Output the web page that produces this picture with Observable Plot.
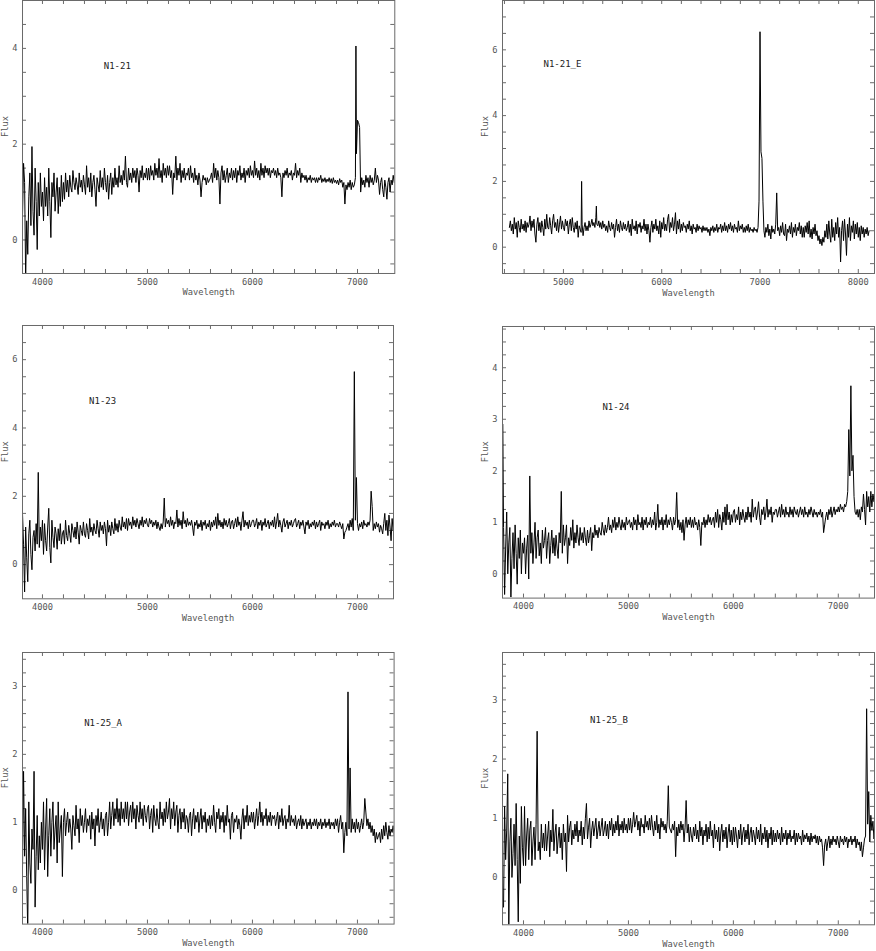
<!DOCTYPE html>
<html><head><meta charset="utf-8">
<script src="https://cdn.jsdelivr.net/npm/d3@7"></script>
<script src="https://cdn.jsdelivr.net/npm/@observablehq/plot@0.6"></script>
<style>
body{margin:0;background:#fff;}
#root{position:relative;width:876px;height:951px;overflow:hidden;background:#fff;}
#root svg{position:absolute;}
</style></head><body><div id="root"></div>
<script>
// Sampling step of the tabulated spectra (Angstrom)
const STEP = 10;

// ---- N1-21 (starts 3810 A) ----
const n121Start = 3810;
const n121Flux = [
 0.5,1.6,1.2,-0.8,0.4,-0.3,0.9,1.4,0.3,1.95,0.6,0.1,1.5,0.8,-0.2,1.2,0.5,1.4,0.7,1.0,
 0.4,1.3,0.7,1.1,0.5,1.5,0.8,0.05,1.2,0.9,1.4,0.6,1.0,1.3,0.55,1.1,0.7,1.35,0.8,1.2,
 0.85,1.4,1.0,1.25,0.9,1.35,1.1,1.0,1.45,1.2,1.05,1.3,1.15,0.95,1.4,1.1,1.25,1.0,1.35,1.15,
 0.95,1.55,1.1,1.3,1.0,1.4,0.9,1.2,1.35,1.05,0.7,1.3,1.15,1.0,1.45,1.1,1.3,1.05,1.5,1.2,
 1.0,1.35,0.85,1.2,1.4,0.95,1.3,1.1,1.5,1.15,1.3,1.1,1.55,1.2,1.35,1.15,1.45,1.25,1.75,1.2,
 1.1,1.5,1.25,1.4,1.2,1.5,1.3,1.45,1.2,1.5,1.35,1.0,1.45,1.3,1.55,1.25,1.4,1.3,1.5,1.25,
 1.5,1.25,1.55,1.35,1.45,1.25,1.6,1.35,1.5,1.3,1.7,1.3,1.45,1.2,1.6,1.35,1.5,1.3,1.55,1.35,
 1.55,1.3,1.45,0.95,1.4,1.3,1.75,1.25,1.5,1.35,1.6,1.2,1.45,1.3,1.5,1.25,1.4,1.35,1.5,1.25,
 1.55,1.3,1.4,1.2,1.5,1.25,1.35,1.15,1.4,1.25,0.9,1.2,1.35,1.25,1.3,1.15,1.3,1.2,1.25,1.3,
 1.4,1.2,1.6,1.3,1.5,1.25,1.45,1.3,0.75,1.4,1.55,1.25,1.45,1.2,1.35,1.5,1.2,1.4,1.3,1.5,
 1.25,1.45,1.3,1.5,1.2,1.45,1.35,1.55,1.25,1.4,1.3,1.5,1.2,1.45,1.35,1.5,1.3,1.55,1.35,1.45,
 1.3,1.65,1.35,1.5,1.3,1.45,1.25,1.6,1.35,1.5,1.3,1.55,1.4,1.5,1.35,1.5,1.3,1.45,1.4,1.5,
 1.35,1.45,1.3,1.5,1.35,1.4,1.3,0.9,1.4,1.3,1.45,1.35,1.5,1.3,1.4,1.35,1.45,1.25,1.4,1.35,
 1.6,1.3,1.45,1.35,1.5,1.2,1.4,1.3,1.35,1.25,1.35,1.2,1.3,1.25,1.35,1.2,1.3,1.25,1.3,1.2,
 1.3,1.2,1.3,1.25,1.35,1.2,1.28,1.22,1.3,1.2,1.27,1.22,1.3,1.2,1.28,1.18,1.3,1.2,1.25,1.18,
 1.25,1.15,1.28,1.2,1.25,1.1,1.2,0.75,1.15,1.05,1.2,1.1,1.25,1.05,1.2,1.1,1.15,1.3,1.8,2.5,
 2.45,2.35,1.0,1.3,1.15,1.25,1.1,1.35,1.2,1.3,1.1,1.35,1.2,1.3,1.15,1.25,1.5,1.2,1.35,1.25,
 0.95,1.2,1.3,1.05,0.9,1.25,1.1,0.85,1.2,1.3,1.0,1.25,1.15,1.35,1.2
];
const n121Lines = [[6985,4.05]];

// ---- N1-21_E (starts 4450 A) ----
const n121eStart = 4450;
const n121eFlux = [
 0.6,0.8,0.5,0.7,0.4,0.9,0.55,0.75,0.3,0.8,0.6,0.45,0.85,0.55,0.7,0.5,0.8,0.45,0.75,0.6,
 0.7,0.95,0.5,0.8,0.6,0.85,0.4,0.15,0.7,0.9,0.5,0.75,0.45,0.8,0.6,0.35,0.85,0.55,1.0,0.6,
 0.55,0.9,0.65,0.4,0.8,1.0,0.6,0.75,0.5,0.85,0.45,0.7,0.95,0.55,0.8,0.6,0.5,0.85,0.65,0.8,
 0.4,0.7,0.85,0.5,0.9,0.6,0.45,0.75,0.55,0.8,0.3,0.65,0.55,0.45,0.7,0.35,0.6,0.75,0.5,0.65,
 0.5,0.8,0.6,0.7,0.85,0.65,0.75,0.6,0.9,0.7,0.65,0.8,0.6,0.75,0.55,0.8,0.6,0.7,0.5,0.65,
 0.45,0.8,0.6,0.5,0.75,0.55,0.7,0.3,0.6,0.85,0.5,0.7,0.45,0.8,0.6,0.5,0.75,0.55,0.7,0.5,
 0.6,0.8,0.45,0.7,0.35,0.85,0.55,0.65,0.5,0.8,0.4,0.7,0.6,0.75,0.45,0.65,0.55,0.85,0.5,0.7,
 0.4,0.7,0.5,0.15,0.6,0.8,0.45,0.7,0.55,0.85,0.5,0.65,0.4,0.8,0.3,0.75,0.55,0.9,0.5,0.7,
 0.5,0.85,1.0,0.45,0.75,0.6,0.9,0.5,0.7,1.05,0.4,0.8,0.55,0.85,0.45,0.7,0.5,0.75,0.6,0.65,
 0.45,0.7,0.55,0.8,0.5,0.65,0.4,0.7,0.55,0.6,0.45,0.7,0.5,0.65,0.55,0.6,0.45,0.65,0.5,0.6,
 0.5,0.6,0.45,0.55,0.35,0.6,0.5,0.65,0.45,0.6,0.5,0.7,0.45,0.6,0.55,0.7,0.45,0.65,0.5,0.75,
 0.5,0.65,0.45,0.7,0.55,0.75,0.5,0.65,0.45,0.7,0.55,0.6,0.45,0.8,0.5,0.65,0.55,0.7,0.45,0.6,
 0.45,0.65,0.5,0.7,0.45,0.6,0.5,0.55,0.45,0.6,0.5,0.55,0.45,0.6,1.4,6.55,2.9,2.7,1.4,0.5,
 0.3,0.6,0.45,0.7,0.35,0.55,0.25,0.65,0.45,0.55,0.4,0.7,1.65,0.5,0.6,0.35,0.65,0.45,0.75,0.4,
 0.35,0.7,0.2,0.55,0.45,0.65,0.4,0.75,0.3,0.6,0.45,0.7,0.35,0.6,0.5,0.75,0.4,0.65,0.3,0.6,
 0.3,0.65,0.45,0.75,0.4,0.8,0.3,0.55,0.25,0.6,0.4,0.7,0.35,0.5,0.2,0.35,0.1,0.25,0.05,0.3,
 0.15,0.5,0.3,0.7,0.25,0.8,0.4,0.15,0.85,0.3,0.6,0.2,0.75,0.4,0.9,0.3,0.6,-0.45,0.5,0.8,
 0.2,0.85,0.4,-0.25,0.7,0.3,0.9,0.2,0.65,0.45,0.8,0.25,0.7,0.4,0.75,0.3,0.6,0.2,0.65,0.4,
 0.6,0.3,0.55,0.4,0.6,0.35,0.5
];
const n121eLines = [[5185,2.0],[5335,1.25]];

// ---- N1-23 (starts 3810 A) ----
const n123Start = 3810;
const n123Flux = [
 1.5,0.6,-0.8,1.1,0.2,-0.5,0.9,1.3,0.3,-0.15,0.8,1.0,0.4,1.2,0.6,2.7,0.5,1.1,0.7,1.3,
 0.3,1.2,0.7,0.4,1.1,1.65,0.5,0.05,1.3,0.8,0.5,1.1,0.9,0.45,1.05,0.7,1.2,0.6,0.9,1.0,
 0.6,1.3,0.85,0.7,1.15,0.9,0.65,1.2,1.0,0.8,1.1,0.75,1.25,0.95,0.6,1.15,1.0,0.85,1.25,0.9,
 0.8,1.2,1.0,0.75,1.35,0.95,1.1,0.85,1.2,1.0,0.9,1.3,1.05,0.8,1.25,1.0,1.15,0.9,1.25,1.05,
 0.55,1.3,0.95,1.15,0.85,1.25,1.05,0.9,1.35,1.0,1.2,0.95,1.3,1.1,1.0,1.4,1.1,1.25,1.05,1.35,
 1.0,1.35,1.15,1.25,1.05,1.4,1.15,1.3,1.1,1.35,1.2,1.05,1.3,1.15,1.4,1.1,1.3,1.2,1.35,1.15,
 1.1,1.35,1.2,1.3,1.1,1.25,1.15,1.3,1.05,1.25,1.1,1.0,1.2,1.05,1.25,1.95,1.1,1.35,1.2,1.3,
 1.1,1.4,1.15,1.3,1.05,1.25,1.2,1.6,1.1,1.35,1.15,1.3,1.05,1.55,1.2,1.3,1.1,1.35,1.15,1.25,
 1.15,1.3,1.1,0.85,1.25,1.15,1.3,1.05,1.2,1.1,1.3,1.0,1.25,1.15,1.3,1.05,1.2,1.1,1.3,1.0,
 1.25,1.1,1.3,1.15,1.4,1.05,1.5,1.15,1.3,1.1,1.25,1.05,1.35,1.15,1.3,1.1,1.2,1.35,1.05,1.25,
 1.3,1.05,1.2,1.35,1.1,1.4,1.15,1.25,1.0,1.3,1.55,1.1,1.3,1.15,1.25,1.05,1.3,1.1,1.2,1.3,
 1.3,1.1,1.2,1.35,1.05,1.25,1.15,1.3,1.0,1.25,1.15,1.35,1.1,1.2,1.3,1.05,1.25,1.15,1.3,1.1,
 1.4,1.05,1.25,1.5,1.1,1.3,1.15,0.95,1.25,1.35,1.1,1.2,1.3,1.05,1.25,1.15,1.3,1.1,1.2,1.3,
 1.35,1.1,1.2,1.3,1.05,1.25,1.15,1.3,1.1,0.9,1.25,1.15,1.3,1.05,1.2,1.1,1.25,1.15,1.3,1.05,
 1.25,1.1,1.2,1.3,1.0,1.25,1.15,1.2,1.05,1.25,1.15,1.3,1.05,1.2,1.1,1.25,1.15,1.3,1.1,1.2,
 1.2,1.1,1.25,1.15,1.05,1.2,0.75,0.95,1.0,1.1,1.2,1.0,1.3,1.1,1.35,1.0,5.65,1.3,2.55,1.2,
 1.0,1.2,1.1,1.25,1.05,1.3,1.15,1.2,1.1,1.25,1.15,1.3,2.15,1.7,1.0,1.2,1.05,1.25,1.1,1.2,
 0.95,1.15,1.05,0.9,1.2,1.5,1.0,1.3,0.85,1.45,1.1,0.7,1.35,1.0,1.25
];
const n123Lines = [];

// ---- N1-24 (starts 3810 A) ----
const n124Start = 3810;
const n124Flux = [
 0.9,-0.4,0.5,1.2,0.0,0.6,0.9,-0.45,0.3,0.8,0.1,0.95,0.4,-0.2,0.7,0.3,0.85,0.0,0.6,0.4,
 0.7,0.0,0.5,0.75,-0.1,1.9,0.4,0.8,0.2,0.6,1.0,0.3,0.7,0.85,0.35,0.6,0.2,0.85,0.5,0.65,
 0.9,0.3,0.65,0.8,0.2,0.55,0.85,0.4,0.7,0.35,0.75,0.5,0.3,0.8,0.6,1.6,0.4,0.95,0.55,0.7,
 0.95,0.2,0.7,0.55,0.9,0.65,1.05,0.5,0.8,0.6,0.95,0.7,0.55,0.9,0.65,0.8,0.6,0.9,0.7,0.55,
 0.85,0.6,0.75,0.9,0.45,0.8,0.7,0.95,0.75,0.85,0.7,0.9,0.8,0.75,1.0,0.85,0.75,0.95,0.8,0.9,
 1.1,0.85,0.95,0.8,1.05,0.9,1.1,0.85,1.0,0.9,1.1,0.95,0.85,1.05,0.9,1.0,0.85,1.1,0.95,1.0,
 1.05,0.9,1.0,0.85,1.1,0.95,1.05,0.85,1.15,0.95,1.0,0.9,1.1,0.85,1.05,0.95,1.1,0.9,1.0,0.95,
 1.1,0.9,1.05,0.95,1.2,0.85,1.0,1.35,0.9,1.05,0.95,1.1,0.85,1.05,0.95,1.15,0.9,1.05,0.95,1.1,
 1.0,0.85,1.1,0.95,1.05,1.58,0.9,1.05,0.85,1.0,0.8,1.05,0.65,0.95,1.1,0.9,1.05,0.95,1.1,0.9,
 1.05,0.9,1.1,0.95,1.0,0.85,1.05,0.9,0.55,1.0,0.95,1.1,0.9,1.05,0.95,1.15,1.0,1.1,0.95,1.05,
 1.1,0.9,1.2,1.0,1.25,0.9,1.15,1.05,0.85,1.2,1.0,1.3,0.95,1.35,1.05,1.2,0.95,1.15,1.0,1.2,
 1.25,1.0,1.15,1.05,1.3,0.95,1.2,1.05,1.25,1.1,1.0,1.2,1.05,1.3,1.1,1.2,1.0,1.45,1.1,1.25,
 1.3,1.05,1.2,1.4,1.1,0.95,1.25,1.15,1.3,1.05,1.2,1.45,1.1,1.25,1.15,1.3,1.0,1.2,1.15,1.25,
 1.25,1.1,1.2,1.3,1.1,1.35,1.15,1.25,1.1,1.3,1.15,1.2,1.1,1.3,1.15,1.25,1.1,1.3,1.2,1.15,
 1.25,1.1,1.2,1.3,1.15,1.25,1.1,1.3,1.15,1.2,1.1,1.25,1.15,1.3,1.2,1.1,1.25,1.15,1.2,1.1,
 1.2,1.15,1.25,1.1,1.2,0.8,0.95,1.1,1.2,1.05,1.25,1.15,1.3,1.1,1.2,1.3,1.15,1.25,1.2,1.3,
 1.2,1.35,1.25,1.3,1.2,1.35,1.3,1.4,1.6,2.8,1.9,3.65,2.0,2.3,1.5,1.2,1.15,1.25,1.1,1.25,
 1.05,1.3,1.2,1.55,1.25,0.95,1.6,1.3,1.5,1.2,1.6,1.3,1.55,1.4,1.5
];
const n124Lines = [[3803,2.9]];

// ---- N1-25_A (starts 3810 A) ----
const n125aStart = 3810;
const n125aFlux = [
 0.3,1.75,0.5,1.2,0.2,-0.6,1.3,0.4,0.1,0.9,0.6,1.75,-0.25,0.5,1.1,0.3,0.8,0.4,1.0,0.6,
 1.3,0.3,0.9,1.35,0.2,0.8,1.2,0.5,1.0,1.3,0.6,0.9,1.1,0.4,1.3,0.7,0.9,1.1,0.2,1.0,
 1.2,0.8,1.0,1.15,0.85,1.05,0.9,0.6,1.1,0.95,0.8,1.25,0.9,1.05,0.7,1.2,0.95,1.1,0.85,1.0,
 1.2,0.85,1.05,0.95,1.1,0.75,1.15,0.9,1.05,0.65,1.1,0.95,1.2,0.85,1.0,1.15,0.9,1.05,0.8,1.1,
 1.15,0.8,1.0,1.3,0.9,1.1,1.3,0.95,1.2,1.05,1.35,1.0,1.2,0.95,1.3,1.05,1.2,1.0,1.3,1.05,
 1.3,0.95,1.15,1.25,1.0,1.3,1.05,1.2,0.9,1.25,1.1,1.0,1.3,1.05,1.2,0.95,1.25,1.1,1.0,1.2,
 1.25,0.9,1.1,1.2,0.85,1.25,1.05,0.95,1.2,1.0,0.9,1.3,1.05,1.15,0.95,1.2,1.0,1.3,1.05,1.15,
 1.35,0.9,1.2,1.05,1.3,0.95,1.15,1.25,0.85,1.1,1.2,0.9,1.15,1.0,1.2,0.9,1.1,1.05,0.85,1.1,
 1.15,0.8,1.05,1.2,0.9,1.1,1.0,1.15,0.85,1.05,1.2,0.9,1.1,1.0,1.15,0.85,1.05,0.95,1.1,0.9,
 1.1,0.95,1.25,1.0,0.85,1.15,1.05,1.2,0.9,1.1,1.0,1.15,0.85,1.1,0.95,1.25,1.0,1.05,0.75,1.1,
 1.15,0.85,1.05,1.0,1.1,0.9,1.05,0.95,0.75,1.05,1.2,0.9,1.1,1.0,1.25,0.95,1.1,1.0,1.15,1.0,
 1.15,0.9,1.05,1.2,0.95,1.1,1.3,1.0,1.15,0.95,1.1,1.05,1.2,0.95,1.1,1.0,1.15,0.95,1.1,1.05,
 1.1,0.95,1.05,1.15,0.9,1.1,1.0,1.2,0.95,1.05,1.1,0.9,1.05,1.0,1.25,0.95,1.1,1.0,1.05,0.95,
 1.1,0.9,1.0,1.05,0.95,1.1,0.9,1.05,0.95,1.0,1.05,0.9,1.0,0.95,1.05,0.9,1.0,0.95,1.05,0.95,
 1.05,0.9,1.0,0.95,1.05,0.9,1.0,0.95,1.05,0.92,1.0,0.95,1.05,0.9,1.0,0.95,1.0,0.9,1.05,0.95,
 1.05,0.85,1.0,1.1,0.9,1.0,0.55,0.85,1.0,0.8,2.92,0.9,1.8,0.85,1.05,0.9,1.0,0.85,1.05,0.9,
 1.0,0.85,0.95,1.05,0.9,1.0,1.35,1.15,0.95,1.05,0.9,1.0,0.85,0.95,0.8,0.9,0.7,0.85,0.75,0.8,
 0.85,0.7,0.9,0.75,0.95,0.8,1.0,0.85,0.75,0.95,0.8,0.9,0.85,0.95,0.8
];
const n125aLines = [];

// ---- N1-25_B (starts 3810 A) ----
const n125bStart = 3810;
const n125bFlux = [
 -0.5,1.2,0.3,0.8,1.75,-0.8,0.6,1.0,0.0,0.4,0.9,0.2,1.25,0.3,-0.75,0.7,-0.1,1.2,0.5,0.2,
 1.2,0.2,0.7,1.0,0.3,0.8,0.95,0.2,0.6,0.85,0.3,0.9,2.47,0.45,0.6,0.3,0.9,0.5,0.75,0.45,
 0.9,0.45,0.7,0.95,0.35,0.8,0.6,1.15,0.45,0.75,0.9,0.4,0.65,0.85,0.5,0.75,0.3,0.9,0.6,0.75,
 0.1,1.05,0.6,0.85,0.95,0.55,0.8,0.65,0.9,0.7,0.95,0.6,0.8,0.7,0.95,0.55,0.85,0.65,1.0,1.25,
 0.65,0.85,1.0,0.5,0.8,0.95,0.7,0.85,1.0,0.65,0.8,0.95,0.7,0.85,1.0,0.7,0.8,0.95,0.7,0.9,
 0.65,0.95,0.8,1.0,0.7,0.9,0.75,0.95,0.8,1.05,0.7,0.9,0.8,0.95,0.75,1.0,0.8,0.9,0.75,1.0,
 0.8,1.0,0.75,0.9,1.1,0.85,0.95,1.05,0.8,0.95,0.7,1.0,0.85,0.9,0.75,1.05,0.85,0.95,0.8,1.0,
 0.8,1.05,0.85,0.7,0.95,0.8,1.05,0.75,0.9,0.65,1.0,0.85,0.95,0.8,0.9,0.75,0.95,1.55,0.85,0.8,
 0.75,0.9,0.8,0.95,0.35,0.85,0.7,0.9,0.75,0.95,0.8,0.9,0.6,0.85,1.3,0.75,0.9,0.6,0.85,0.7,
 0.6,0.85,0.7,0.9,0.65,0.8,0.6,0.95,0.7,0.85,0.55,0.8,0.7,0.9,0.6,0.85,0.65,0.95,0.7,0.8,
 0.5,0.9,0.65,0.8,0.6,0.85,0.45,0.75,0.9,0.6,0.8,0.65,0.85,0.5,0.75,0.9,0.6,0.8,0.55,0.85,
 0.6,0.85,0.7,0.5,0.8,0.65,0.9,0.55,0.75,0.85,0.6,0.8,0.65,0.9,0.55,0.75,0.85,0.6,0.8,0.7,
 0.55,0.85,0.65,0.8,0.6,0.9,0.55,0.75,0.65,0.85,0.6,0.8,0.5,0.75,0.65,0.85,0.55,0.8,0.6,0.75,
 0.6,0.8,0.65,0.75,0.55,0.85,0.6,0.75,0.65,0.8,0.55,0.75,0.65,0.8,0.6,0.7,0.65,0.8,0.55,0.75,
 0.6,0.75,0.65,0.7,0.55,0.8,0.6,0.72,0.65,0.75,0.6,0.7,0.55,0.75,0.6,0.7,0.65,0.72,0.58,0.7,
 0.55,0.7,0.6,0.65,0.5,0.2,0.55,0.65,0.45,0.6,0.7,0.5,0.65,0.55,0.7,0.6,0.65,0.55,0.7,0.6,
 0.5,0.7,0.6,0.65,0.55,0.7,0.6,0.68,0.5,0.65,0.6,0.7,0.55,0.65,0.6,0.7,0.5,0.65,0.55,0.6,
 0.45,0.6,0.35,0.5,0.65,0.7,2.85,0.9,1.45,0.6,1.05,0.8,0.95,0.65,0.85
];
const n125bLines = [];

// Panel labels and their anchor positions (data coords)
const names = ["N1-21","N1-21_E","N1-23","N1-24","N1-25_A","N1-25_B"];
const labelX = [4584,4797,4444,4752,4397,4635];
const labelY = [3.62,5.57,4.78,3.23,2.46,2.65];

const panels = [
  {name:names[0], start:n121Start, flux:n121Flux, lines:n121Lines, xd:[3810,7355], yd:[-0.7,5.0], xmaj:[4000,5000,6000,7000], ymaj:[0,2,4], ymin:0.5, box:[21.7,0,394,273]},
  {name:names[1], start:n121eStart, flux:n121eFlux, lines:n121eLines, xd:[4380,8165], yd:[-0.8,7.5], xmaj:[5000,6000,7000,8000], ymaj:[0,2,4,6], ymin:0.5, box:[502.3,0,874.3,273]},
  {name:names[2], start:n123Start, flux:n123Flux, lines:n123Lines, xd:[3810,7343], yd:[-1,7], xmaj:[4000,5000,6000,7000], ymaj:[0,2,4,6], ymin:0.5, box:[21.7,325,392.7,598.3]},
  {name:names[3], start:n124Start, flux:n124Flux, lines:n124Lines, xd:[3800,7345], yd:[-0.47,4.8], xmaj:[4000,5000,6000,7000], ymaj:[0,1,2,3,4], ymin:0.25, box:[502.3,325.7,874.3,597.3]},
  {name:names[4], start:n125aStart, flux:n125aFlux, lines:n125aLines, xd:[3810,7349], yd:[-0.5,3.5], xmaj:[4000,5000,6000,7000], ymaj:[0,1,2,3], ymin:0.2, box:[21.7,651.7,393.3,923.3]},
  {name:names[5], start:n125bStart, flux:n125bFlux, lines:n125bLines, xd:[3800,7345], yd:[-0.8,3.8], xmaj:[4000,5000,6000,7000], ymaj:[0,1,2,3], ymin:0.2, box:[502.3,651.7,874.3,924]}
];

const root = document.getElementById("root");
const GRAY = "#6a6a6a", TXT = "#555";

panels.forEach((p, idx) => {
  const mL = 24, mR = 3, mT = 2, mB = 32;
  const fw = p.box[2] - p.box[0], fh = p.box[3] - p.box[1];
  const data = p.flux.map((f, i) => ({w: p.start + i * STEP, f}))
    .concat(p.lines.map(([w, f]) => ({w, f})))
    .sort((a, b) => a.w - b.w);
  const xt = d3.range(Math.ceil(p.xd[0] / 200), Math.floor(p.xd[1] / 200) + 1).map(k => k * 200)
    .filter(v => v > p.xd[0] + 5 && v < p.xd[1] - 5);
  const yt = d3.range(Math.ceil(p.yd[0] / p.ymin - 1e-9), Math.floor(p.yd[1] / p.ymin + 1e-9) + 1)
    .map(k => +(k * p.ymin).toFixed(4)).filter(v => v > p.yd[0] && v < p.yd[1]);
  const svg = Plot.plot({
    width: fw + mL + mR, height: fh + mT + mB,
    marginLeft: mL, marginRight: mR, marginTop: mT, marginBottom: mB,
    x: {domain: p.xd}, y: {domain: p.yd},
    style: {fontFamily: "DejaVu Sans Mono", fontSize: "8.7px", color: TXT, background: "transparent"},
    marks: [
      Plot.ruleX(xt, {x: d => d, insetTop: fh - 4, stroke: GRAY}),
      Plot.ruleX(xt, {x: d => d, insetBottom: fh - 4, stroke: GRAY}),
      Plot.ruleY(yt, {y: d => d, insetRight: fw - 4, stroke: GRAY}),
      Plot.ruleY(yt, {y: d => d, insetLeft: fw - 4, stroke: GRAY}),
      Plot.line(data, {x: "w", y: "f", stroke: "#000", strokeWidth: 1, clip: true}),
      Plot.frame({stroke: GRAY}),
      Plot.axisX(p.xmaj, {tickSize: 0, tickPadding: 5, label: null, tickFormat: d => String(d)}),
      Plot.axisY(p.ymaj, {tickSize: 0, tickPadding: 5, label: null, tickFormat: d => String(d)}),
      Plot.text(["Wavelength"], {text: d => d, frameAnchor: "bottom", dy: 22, fill: TXT}),
      Plot.text(["Flux"], {text: d => d, frameAnchor: "left", dx: -17, rotate: -90, fill: TXT}),
      Plot.text([p.name], {text: d => d, x: () => labelX[idx], y: () => labelY[idx], textAnchor: "start", fill: "#222", fontSize: 9})
    ]
  });
  svg.style.left = (p.box[0] - mL) + "px";
  svg.style.top = (p.box[1] - mT) + "px";
  root.appendChild(svg);
});
</script>
</body></html>
